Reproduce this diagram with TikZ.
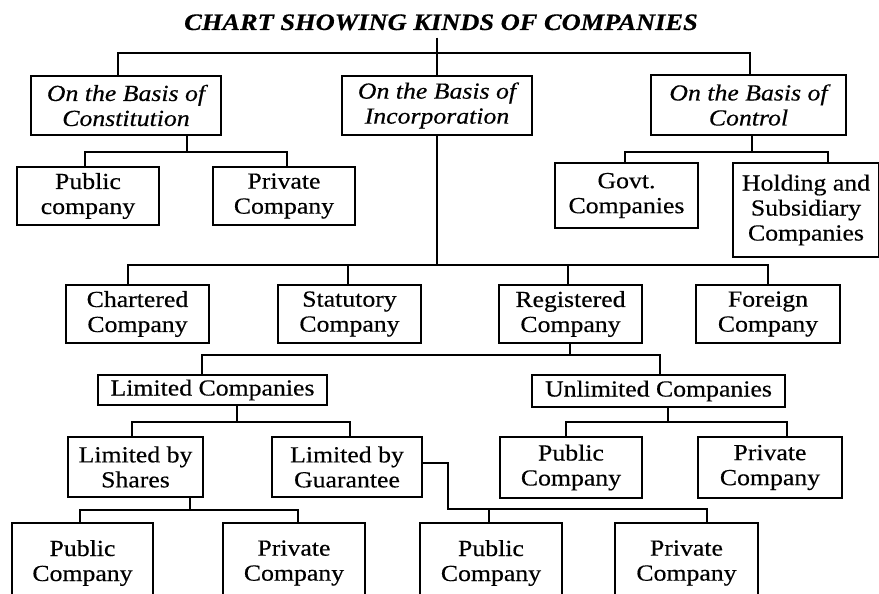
\documentclass[tikz,border=0pt]{standalone}
\usepackage{fontspec}
\setmainfont{Liberation Serif}[FakeStretch=1.12, FakeBold=0.4]
\begin{document}
\begin{tikzpicture}[x=1pt,y=-1pt,
  txt/.style={font=\fontsize{23}{25}\selectfont},
  box/.style={txt, draw, line width=2.6pt, align=center, inner sep=0pt,
    minimum width=143, minimum height=58},
  link/.style={line width=2.6pt, line join=miter},
]
\useasboundingbox (0,0) rectangle (879,594);
\clip (0,0) rectangle (879,594);

% heading
\node[txt, font=\fontsize{23.6}{25}\selectfont\bfseries\itshape, inner sep=0pt, anchor=base]
  (title) at (441,30) {CHART SHOWING KINDS OF COMPANIES};

% first level
\node[box, minimum width=190, minimum height=59] (A) at (126,105.5) {\itshape On the Basis of\\\itshape Constitution};
\node[box, minimum width=190, minimum height=59] (B) at (437,105.5) {\itshape On the Basis of\\\itshape Incorporation};
\node[box, minimum width=195, minimum height=60] (C) at (748.5,105) {\itshape On the Basis of\\\itshape Control};

% by constitution
\node[box, minimum width=142] (D) at (88,196) {Public\\company};
\node[box, minimum width=142] (E) at (284,196) {Private\\Company};

% by control
\node[box, minimum height=65] (F) at (626.5,195.5) {Govt.\\Companies};
\node[box, minimum width=146, minimum height=94] (G) at (806,210) {Holding and\\Subsidiary\\Companies};

% by incorporation
\node[box] (H) at (137.5,314) {Chartered\\Company};
\node[box] (I) at (349.5,314) {Statutory\\Company};
\node[box] (J) at (570.5,314) {Registered\\Company};
\node[box, minimum width=144] (K) at (768,314) {Foreign\\Company};

% registered companies
\node[box, minimum width=229, minimum height=30] (L) at (212.5,390) {Limited Companies};
\node[box, minimum width=253, minimum height=32] (M) at (658.5,391) {Unlimited Companies};

% limited companies
\node[box, minimum width=135, minimum height=60] (N) at (135.5,467) {Limited by\\Shares};
\node[box, minimum width=150, minimum height=60] (O) at (347,467) {Limited by\\Guarantee};

% unlimited companies
\node[box, minimum width=142, minimum height=61] (P) at (571,467.5) {Public\\Company};
\node[box, minimum width=144, minimum height=61] (Q) at (770,467.5) {Private\\Company};

% bottom row
\node[box, minimum width=141, minimum height=80] (R) at (82.5,563) {Public\\Company};
\node[box, minimum width=142, minimum height=80] (S) at (294,563) {Private\\Company};
\node[box, minimum width=142, minimum height=80] (T) at (491,563) {Public\\Company};
\node[box, minimum width=143, minimum height=80] (U) at (686.5,563) {Private\\Company};

% junction points of the branch bars
\coordinate (k0) at (437,53);
\coordinate (kA) at (187,152);
\coordinate (kC) at (752,152);
\coordinate (kB) at (437,265);
\coordinate (kJ) at (570,355);
\coordinate (kL) at (237,422);
\coordinate (kM) at (668,422);
\coordinate (kN) at (190,510);
\coordinate (kO) at (448,509);

% connectors
\draw[link, shorten <=7pt] (title.south -| B.north) -- (B.north);
\draw[link] ([xshift=-8]A.north) |- (k0) -| ([xshift=1.5]C.north);

\draw[link] (A.south -| kA) -- (kA);
\draw[link] ([xshift=-3]D.north) |- (kA) -| ([xshift=3]E.north);

\draw[link] (C.south -| kC) -- (kC);
\draw[link] ([xshift=-1.5]F.north) |- (kC) -| ([xshift=22]G.north);

\draw[link] (B.south) -- (kB);
\draw[link] ([xshift=-9.5]H.north) |- (kB) -| (K.north);
\draw[link] ([xshift=-1.5]I.north) -- ([xshift=-1.5]I.north |- kB);
\draw[link] ([xshift=-2.5]J.north) -- ([xshift=-2.5]J.north |- kB);

\draw[link] (J.south -| kJ) -- (kJ);
\draw[link] ([xshift=-10.5]L.north) |- (kJ) -| ([xshift=1.5]M.north);

\draw[link] (L.south -| kL) -- (kL);
\draw[link] ([xshift=-3.5]N.north) |- (kL) -| ([xshift=3]O.north);

\draw[link] (M.south -| kM) -- (kM);
\draw[link] ([xshift=-5]P.north) |- (kM) -| ([xshift=17]Q.north);

\draw[link] (N.south -| kN) -- (kN);
\draw[link] ([xshift=-2.5]R.north) |- (kN) -| ([xshift=4]S.north);

\draw[link] ([yshift=4]O.east) -| (kO) -| ([xshift=20.5]U.north);
\draw[link] ([xshift=-2]T.north) -- ([xshift=-2]T.north |- kO);
\end{tikzpicture}
\end{document}
